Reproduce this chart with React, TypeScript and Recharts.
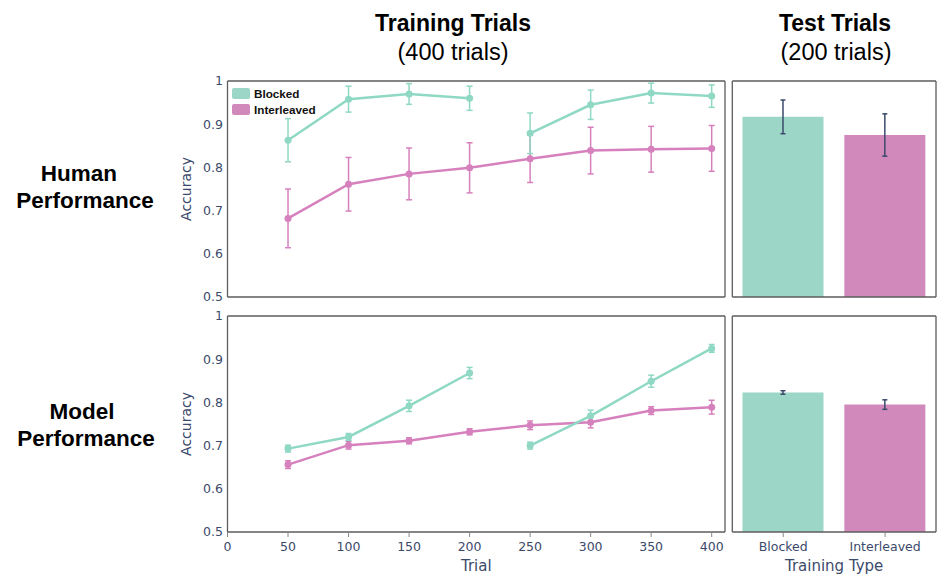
import React from "react";
import { ComposedChart, Line, BarChart, Bar, XAxis, YAxis, ErrorBar, Legend, Cell } from "recharts";

// trial checkpoints (x axis)
const trials = [50, 100, 150, 200, 250, 300, 350, 400];
const xTicks = [0, 50, 100, 150, 200, 250, 300, 350, 400];
const yTicks = [0.5, 0.6, 0.7, 0.8, 0.9, 1];

// human accuracy during training
const humanBlocked = [0.863, 0.958, 0.97, 0.96, 0.879, 0.945, 0.972, 0.965];
const humanBlockedErr = [0.05, 0.03, 0.024, 0.028, 0.047, 0.034, 0.023, 0.026];
const humanInterleaved = [0.682, 0.761, 0.785, 0.799, 0.82, 0.839, 0.842, 0.844];
const humanInterleavedErr = [0.068, 0.062, 0.06, 0.058, 0.055, 0.054, 0.053, 0.053];

// model accuracy during training
const modelBlocked = [0.693, 0.72, 0.792, 0.868, 0.7, 0.769, 0.849, 0.925];
const modelBlockedErr = [0.008, 0.008, 0.013, 0.013, 0.008, 0.013, 0.014, 0.009];
const modelInterleaved = [0.656, 0.701, 0.711, 0.732, 0.747, 0.754, 0.781, 0.789];
const modelInterleavedErr = [0.009, 0.009, 0.007, 0.007, 0.01, 0.013, 0.009, 0.016];

// test accuracy
const trainingTypes = ["Blocked", "Interleaved"];
const humanTest = [0.917, 0.875];
const humanTestErr = [0.039, 0.049];
const modelTest = [0.823, 0.795];
const modelTestErr = [0.004, 0.011];

// blocked training switches task after the first 4 checkpoints (200 trials)
const BLOCK_SPLIT = 4;

const TEAL_LINE = "#8fd8c4";
const PINK_LINE = "#d681bd";
const TEAL_BAR = "#9bd6c6";
const PINK_BAR = "#d189bb";
const AXIS_TEXT = "#3b4a6b";
const FRAME = "#5c5c5c";
const TICK_FONT = "DejaVu Sans, sans-serif";
const HEAD_FONT = "Liberation Sans, Arial, sans-serif";

function lineRows(blocked: number[], blockedErr: number[], inter: number[], interErr: number[]) {
  return trials.map((trial, i) => ({
    trial,
    blockA: i < BLOCK_SPLIT ? blocked[i] : null,
    blockAErr: i < BLOCK_SPLIT ? blockedErr[i] : null,
    blockB: i >= BLOCK_SPLIT ? blocked[i] : null,
    blockBErr: i >= BLOCK_SPLIT ? blockedErr[i] : null,
    inter: inter[i],
    interErr: interErr[i],
  }));
}

function barRows(values: number[], errs: number[]) {
  return trainingTypes.map((type, i) => ({ type, value: values[i], err: errs[i] }));
}

const humanRows = lineRows(humanBlocked, humanBlockedErr, humanInterleaved, humanInterleavedErr);
const modelRows = lineRows(modelBlocked, modelBlockedErr, modelInterleaved, modelInterleavedErr);
const humanBars = barRows(humanTest, humanTestErr);
const modelBars = barRows(modelTest, modelTestErr);

const frameLine = { stroke: FRAME, strokeWidth: 1.3 };
const tickStyle = { fontSize: 12.5, fill: AXIS_TEXT, fontFamily: TICK_FONT };

function LegendBox() {
  const colors = [TEAL_BAR, PINK_BAR];
  return (
    <div style={{ fontFamily: HEAD_FONT, fontWeight: 700, fontSize: 11.7, color: "#111" }}>
      {trainingTypes.map((t, i) => (
        <div key={t} style={{ display: "flex", alignItems: "center", height: 16.3 }}>
          <span style={{ display: "inline-block", width: 18.5, height: 11, borderRadius: 2, background: colors[i], marginRight: 4 }} />
          {t}
        </div>
      ))}
    </div>
  );
}

function LinePanel({ rows, bottom }: { rows: any[]; bottom?: boolean }) {
  return (
    <div style={{ position: "absolute", left: 170, top: bottom ? 305 : 70 }}>
      <ComposedChart width={570} height={bottom ? 269 : 240} data={rows} margin={{ top: 10, right: 14, left: 0, bottom: 0 }}>
        <XAxis
          dataKey="trial"
          type="number"
          domain={[0, 411]}
          ticks={xTicks}
          allowDataOverflow
          height={bottom ? 42 : 13}
          tickSize={5}
          tickMargin={5}
          tick={bottom ? tickStyle : false}
          tickLine={{ stroke: "#888" }}
          axisLine={frameLine}
          label={bottom ? { value: "Trial", position: "insideBottom", offset: 3, fontSize: 15, fill: AXIS_TEXT, fontFamily: TICK_FONT } : undefined}
        />
        <XAxis xAxisId="top" orientation="top" dataKey="trial" type="number" domain={[0, 411]} height={1} tick={false} tickLine={false} axisLine={frameLine} />
        <YAxis
          domain={[0.5, 1]}
          ticks={yTicks}
          width={57.5}
          tickSize={0}
          tickMargin={4.5}
          tickLine={false}
          tick={tickStyle}
          axisLine={frameLine}
          label={{ value: "Accuracy", angle: -90, position: "insideLeft", offset: 16, fontSize: 14, fill: AXIS_TEXT, fontFamily: TICK_FONT, style: { textAnchor: "middle" } }}
        />
        <YAxis yAxisId="right" orientation="right" domain={[0.5, 1]} width={1} tick={false} tickLine={false} axisLine={frameLine} />
        {!bottom && (
          <Legend layout="vertical" align="center" verticalAlign="middle" wrapperStyle={{ left: 61.5, top: 15, width: "auto" }} content={() => <LegendBox />} />
        )}
        <Line dataKey="inter" stroke={PINK_LINE} strokeWidth={2.5} dot={{ r: 3.5, fill: PINK_LINE, strokeWidth: 0 }} isAnimationActive={false} legendType="none">
          <ErrorBar dataKey="interErr" direction="y" width={3} stroke={PINK_LINE} strokeWidth={1.5} isAnimationActive={false} />
        </Line>
        <Line dataKey="blockA" stroke={TEAL_LINE} strokeWidth={2.5} dot={{ r: 3.5, fill: TEAL_LINE, strokeWidth: 0 }} isAnimationActive={false} legendType="none">
          <ErrorBar dataKey="blockAErr" direction="y" width={3} stroke={TEAL_LINE} strokeWidth={1.5} isAnimationActive={false} />
        </Line>
        <Line dataKey="blockB" stroke={TEAL_LINE} strokeWidth={2.5} dot={{ r: 3.5, fill: TEAL_LINE, strokeWidth: 0 }} isAnimationActive={false} legendType="none">
          <ErrorBar dataKey="blockBErr" direction="y" width={3} stroke={TEAL_LINE} strokeWidth={1.5} isAnimationActive={false} />
        </Line>
      </ComposedChart>
    </div>
  );
}

function BarPanel({ rows, bottom }: { rows: any[]; bottom?: boolean }) {
  const colors = [TEAL_BAR, PINK_BAR];
  return (
    <div style={{ position: "absolute", left: 725, top: bottom ? 305 : 70 }}>
      <BarChart width={213} height={bottom ? 269 : 240} data={rows} margin={{ top: 10, right: 1, left: 6.3, bottom: 0 }} barCategoryGap="10%">
        <XAxis
          dataKey="type"
          height={bottom ? 42 : 13}
          tickSize={5}
          tickMargin={5}
          tick={bottom ? tickStyle : false}
          tickLine={{ stroke: "#888" }}
          axisLine={frameLine}
          label={bottom ? { value: "Training Type", position: "insideBottom", offset: 3, fontSize: 15, fill: AXIS_TEXT, fontFamily: TICK_FONT } : undefined}
        />
        <XAxis xAxisId="top" orientation="top" dataKey="type" height={1} tick={false} tickLine={false} axisLine={frameLine} />
        <YAxis domain={[0.5, 1]} width={1} tick={false} tickLine={false} axisLine={frameLine} allowDataOverflow />
        <YAxis yAxisId="right" orientation="right" domain={[0.5, 1]} width={1} tick={false} tickLine={false} axisLine={frameLine} />
        <Bar dataKey="value" isAnimationActive={false}>
          {rows.map((r, i) => (
            <Cell key={r.type} fill={colors[i]} />
          ))}
          <ErrorBar dataKey="err" direction="y" width={2.5} stroke={AXIS_TEXT} strokeWidth={1.5} isAnimationActive={false} />
        </Bar>
      </BarChart>
    </div>
  );
}

function Caption({ text, x, baseline, size, bold }: { text: string; x: number; baseline: number; size: number; bold?: boolean }) {
  return (
    <div
      style={{
        position: "absolute",
        left: x - 150,
        width: 300,
        top: baseline - 0.8465 * size,
        textAlign: "center",
        fontFamily: HEAD_FONT,
        fontSize: size,
        lineHeight: 1,
        fontWeight: bold ? 700 : 400,
        color: "#000",
        whiteSpace: "nowrap",
      }}
    >
      {text}
    </div>
  );
}

export default function App() {
  return (
    <div style={{ position: "absolute", left: 0, top: 0, width: 938, height: 574, background: "#fff", overflow: "hidden" }}>
      <Caption text="Training Trials" x={453} baseline={31.7} size={23} bold />
      <Caption text="(400 trials)" x={453} baseline={61} size={23.5} />
      <Caption text="Test Trials" x={835} baseline={31.7} size={23} bold />
      <Caption text="(200 trials)" x={836} baseline={61} size={23.5} />
      <Caption text="Human" x={79} baseline={182} size={22.5} bold />
      <Caption text="Performance" x={85} baseline={209} size={22.5} bold />
      <Caption text="Model" x={82} baseline={420} size={22.5} bold />
      <Caption text="Performance" x={86} baseline={447} size={22.5} bold />
      <LinePanel rows={humanRows} />
      <BarPanel rows={humanBars} />
      <LinePanel rows={modelRows} bottom />
      <BarPanel rows={modelBars} bottom />
    </div>
  );
}
